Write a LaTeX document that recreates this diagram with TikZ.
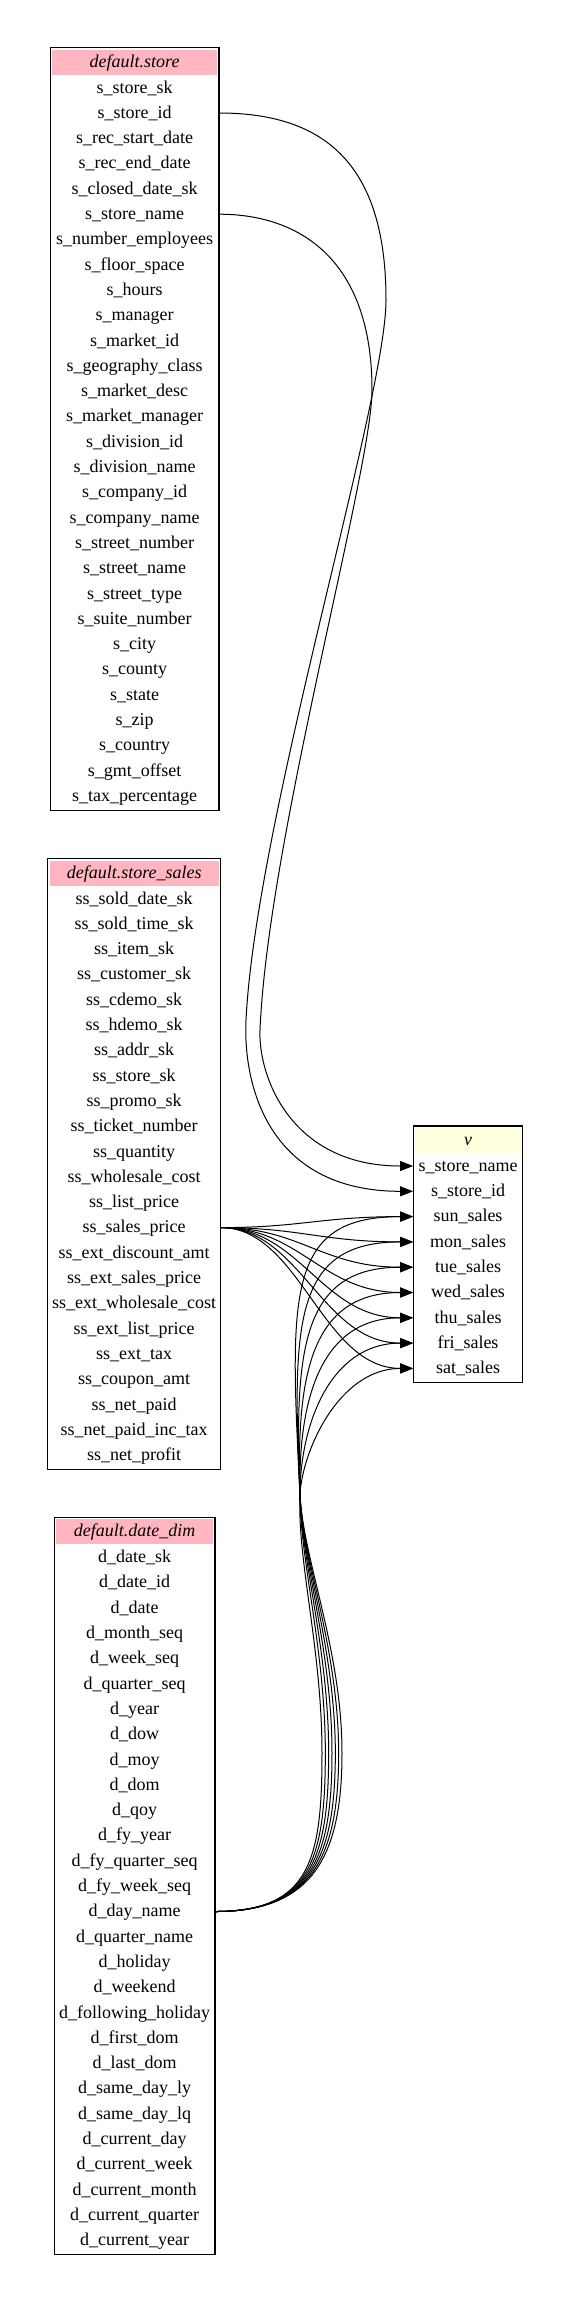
\documentclass[tikz,border=0pt]{standalone}
\usepackage{fontspec}
\setmainfont{Liberation Serif}
\usetikzlibrary{arrows.meta}
\definecolor{hdrpink}{HTML}{FFB6C1}
\definecolor{hdryellow}{HTML}{FFFFE0}
\tikzset{
  tblrow/.style={minimum height=25.3pt, inner sep=0pt, text height=14.6pt, text depth=4pt, font=\fontsize{18}{20}\selectfont},
  tblhead/.style={tblrow, font=\fontsize{18}{20}\selectfont\itshape},
  tblframe/.style={draw=black, line width=1.2pt},
  link/.style={draw=black, line width=1pt, -{Triangle[length=13pt,width=10pt]}},
}
% #1 name #2 left #3 right #4 top #5 colour #6 title #7 nrows #8 rows
\newcommand\dbtable[8]{%
  \pgfmathsetmacro\dbW{#3-#2}%
  \pgfmathsetmacro\dbC{(#2+#3)/2}%
  \pgfmathsetmacro\dbB{#4+27.3+#7*25.3+1.5}%
  \fill[#5] ({#2+1.8},{#4+1.8}) rectangle ({#3-1.8},{#4+26.8});
  \node[tblhead, minimum width=\dbW pt] (#1-h) at (\dbC,{#4+14.3}) {#6};
  \foreach \r [count=\i from 0] in {#8} {
    \node[tblrow, minimum width=\dbW pt] (#1-\i) at (\dbC,{#4+40+\i*25.3}) {\r};
  }
  \draw[tblframe] (#2,#4) rectangle (#3,\dbB);
}
\begin{document}
\begin{tikzpicture}[x=1pt,y=-1pt]
\fill[white] (0,0) rectangle (571,2303);
\useasboundingbox (0,0) rectangle (571,2303);

\dbtable{store}{50.3}{219}{47.7}{hdrpink}{default.store}{29}{s\_store\_sk, s\_store\_id, s\_rec\_start\_date, s\_rec\_end\_date, s\_closed\_date\_sk, s\_store\_name, s\_number\_employees, s\_floor\_space, s\_hours, s\_manager, s\_market\_id, s\_geography\_class, s\_market\_desc, s\_market\_manager, s\_division\_id, s\_division\_name, s\_company\_id, s\_company\_name, s\_street\_number, s\_street\_name, s\_street\_type, s\_suite\_number, s\_city, s\_county, s\_state, s\_zip, s\_country, s\_gmt\_offset, s\_tax\_percentage}

\dbtable{ss}{47.7}{220.7}{858.7}{hdrpink}{default.store\_sales}{23}{ss\_sold\_date\_sk, ss\_sold\_time\_sk, ss\_item\_sk, ss\_customer\_sk, ss\_cdemo\_sk, ss\_hdemo\_sk, ss\_addr\_sk, ss\_store\_sk, ss\_promo\_sk, ss\_ticket\_number, ss\_quantity, ss\_wholesale\_cost, ss\_list\_price, ss\_sales\_price, ss\_ext\_discount\_amt, ss\_ext\_sales\_price, ss\_ext\_wholesale\_cost, ss\_ext\_list\_price, ss\_ext\_tax, ss\_coupon\_amt, ss\_net\_paid, ss\_net\_paid\_inc\_tax, ss\_net\_profit}

\dbtable{dd}{54.3}{215}{1517.3}{hdrpink}{default.date\_dim}{28}{d\_date\_sk, d\_date\_id, d\_date, d\_month\_seq, d\_week\_seq, d\_quarter\_seq, d\_year, d\_dow, d\_moy, d\_dom, d\_qoy, d\_fy\_year, d\_fy\_quarter\_seq, d\_fy\_week\_seq, d\_day\_name, d\_quarter\_name, d\_holiday, d\_weekend, d\_following\_holiday, d\_first\_dom, d\_last\_dom, d\_same\_day\_ly, d\_same\_day\_lq, d\_current\_day, d\_current\_week, d\_current\_month, d\_current\_quarter, d\_current\_year}

\dbtable{v}{413.3}{522.7}{1126}{hdryellow}{v}{9}{s\_store\_name, s\_store\_id, sun\_sales, mon\_sales, tue\_sales, wed\_sales, thu\_sales, fri\_sales, sat\_sales}

% store edges
\draw[link] (store-1.east) .. controls (330,113) and (386,170) .. (386,300)
  .. controls (386,400) and (256,820) .. (246,1020)
  .. controls (243,1080) and (265,1191.3) .. (v-1.west);
\draw[link] (store-5.east) .. controls (300,214.2) and (372,260) .. (372,390)
  .. controls (372,470) and (268,840) .. (260,1030)
  .. controls (258,1075) and (290,1166) .. (v-0.west);

% store_sales fan
\foreach \k in {2,...,8} {
  \pgfmathsetmacro\yk{1166+\k*25.3}
  \draw[link] (ss-13.east) .. controls (300,1227.6) and (322,\yk) .. (v-\k.west);
}

% date_dim fan
\foreach \k in {2,...,8} {
  \pgfmathsetmacro\yk{1166+\k*25.3}
  \pgfmathsetmacro\j{\k-2}
  \pgfmathsetmacro\dd{(6-\j)/6*20}
  \pgfmathsetmacro\aa{200-26*\j}
  \pgfmathsetmacro\px{290+2*\j}
  \pgfmathsetmacro\bb{285+9*\j}
  \pgfmathsetmacro\qq{300-(\px-300)*65/\aa}
  \draw[link] (dd-14.east) .. controls (310,1911.5) and ({322+\dd},1860) .. ({322+\dd},1753)
    .. controls ({322+\dd},1650) and (\qq,1560) .. (300,1495)
    .. controls (\px,{1495-\aa}) and (\bb,\yk) .. (v-\k.west);
}
\end{tikzpicture}
\end{document}
